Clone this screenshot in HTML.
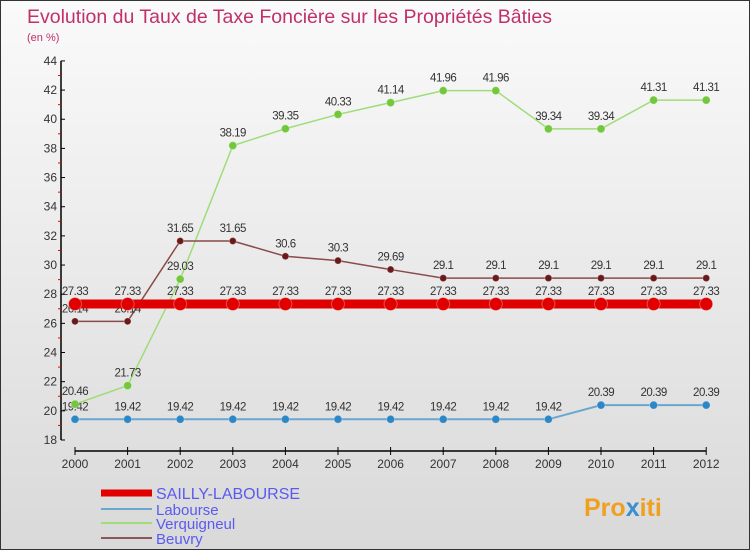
<!DOCTYPE html>
<html><head><meta charset="utf-8"><style>
body{margin:0}
#c{width:748px;height:548px;border:1px solid #333;background:linear-gradient(#fafafa,#d9d9d9);position:relative;overflow:hidden;font-family:"Liberation Sans",sans-serif}
</style></head><body>
<div id="c">
<svg id="s" width="748" height="548" xmlns="http://www.w3.org/2000/svg" font-family="Liberation Sans, sans-serif">
<text x="26" y="22" font-size="19.5" fill="#c0306a">Evolution du Taux de Taxe Foncière sur les Propriétés Bâties</text>
<text x="26" y="40" font-size="11" fill="#c0306a">(en %)</text>
<g id="axes"></g><g id="series"></g><g id="legend"></g>
<text x="583" y="515" font-size="25" font-weight="bold" fill="#f0a020">Pro<tspan fill="#3a8fd0">x</tspan>iti</text>
</svg>
</div>
<script>
const years=[2000,2001,2002,2003,2004,2005,2006,2007,2008,2009,2010,2011,2012];
const yTicks=[18,20,22,24,26,28,30,32,34,36,38,40,42,44];
const sailly=[27.33,27.33,27.33,27.33,27.33,27.33,27.33,27.33,27.33,27.33,27.33,27.33,27.33];
const labourse=[19.42,19.42,19.42,19.42,19.42,19.42,19.42,19.42,19.42,19.42,20.39,20.39,20.39];
const verquigneul=[20.46,21.73,29.03,38.19,39.35,40.33,41.14,41.96,41.96,39.34,39.34,41.31,41.31];
const beuvry=[26.14,26.14,31.65,31.65,30.6,30.3,29.69,29.1,29.1,29.1,29.1,29.1,29.1];
const NS="http://www.w3.org/2000/svg";
const X=i=>74+i*52.6;
const Y=v=>439-(v-18)*14.58;
function mk(tag,attrs,parent){const e=document.createElementNS(NS,tag);for(const k in attrs)e.setAttribute(k,attrs[k]);parent.appendChild(e);return e;}
const ax=document.getElementById('axes');
let yl=mk('line',{x1:60,y1:Y(44),x2:60,y2:Y(18),stroke:'#000','stroke-width':1.5},ax);


yTicks.forEach(t=>{
 mk('line',{x1:60,y1:Y(t),x2:64,y2:Y(t),stroke:'#000'},ax);
 mk('line',{x1:57,y1:Y(t+1),x2:60,y2:Y(t+1),stroke:t<44?'#e00':'none'},ax);
 const tx=mk('text',{x:56,y:Y(t)+4,'font-size':12,fill:'#333','text-anchor':'end'},ax);
 tx.textContent=t;
 
 
});
let xl=mk('line',{x1:X(0),y1:450,x2:X(12),y2:450,stroke:'#000','stroke-width':1.5},ax);


years.forEach((y,i)=>{
 mk('line',{x1:X(i),y1:446,x2:X(i),y2:454,stroke:'#000'},ax);
 const tx=mk('text',{x:X(i),y:467,'font-size':12,fill:'#333','text-anchor':'middle'},ax);
 tx.textContent=y;
 
 
});
const sg=document.getElementById('series');
function series(vals,color,dot,lw,r,name){
 const g=mk('g',{},sg);
 
 
 mk('polyline',{points:vals.map((v,i)=>X(i)+','+Y(v)).join(' '),fill:'none',stroke:color,'stroke-width':lw},g);
 vals.forEach((v,i)=>{
  const c=mk('circle',{cx:X(i),cy:Y(v),r:r,fill:dot,stroke:'#fff','stroke-opacity':0.3},g);
  
  
  const t=mk('text',{x:X(i),y:Y(v)-9,'font-size':11.5,fill:'#333','text-anchor':'middle','letter-spacing':'-0.5'},g);
  t.textContent=v;
  
  
 });
}
series(labourse,'#6aa6d0','#2d87c6',2,4,'labourse-series');
series(verquigneul,'#a0dc78','#72c83a',1.5,4,'verquigneul-series');
series(beuvry,'#8a4a4a','#6a1a1a',1.5,3.5,'beuvry-series');
series(sailly,'#e00000','#e00000',9,6.5,'sailly-labourse-series');
const lg=document.getElementById('legend');
const items=[['SAILLY-LABOURSE','#e00000',7,16],['Labourse','#6aa6d0',2,15],['Verquigneul','#a0dc78',2,15],['Beuvry','#8a5858',2,15]];
const ly=[492,508,522,537];
items.forEach((it,i)=>{
 const g=mk('g',{},lg);
 
 
 mk('line',{x1:100,y1:ly[i],x2:151,y2:ly[i],stroke:it[1],'stroke-width':it[2]},g);
 const t=mk('text',{x:155,y:ly[i]+6,'font-size':it[3],fill:'#5a5af0'},g);
 t.textContent=it[0];
});
</script>
</body></html>
